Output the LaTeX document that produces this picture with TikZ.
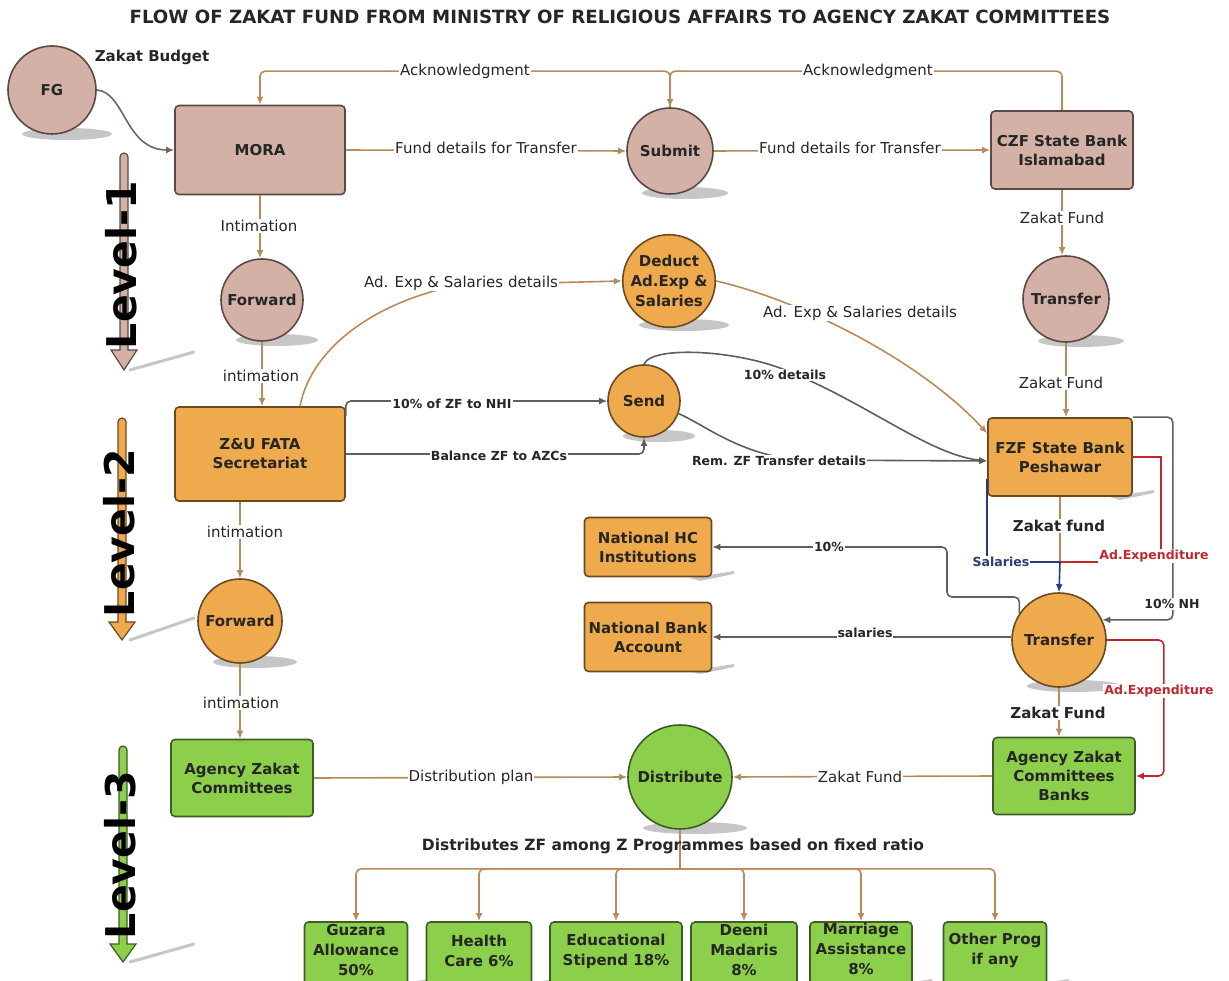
\documentclass[tikz,border=0pt]{standalone}
\usepackage{fontspec}
\setmainfont{DejaVu Sans}
\usetikzlibrary{arrows.meta,calc}

\definecolor{pinkF}{HTML}{D3B1A6}
\definecolor{pinkD}{HTML}{5B4943}
\definecolor{orgF}{HTML}{EFAA4D}
\definecolor{orgD}{HTML}{6B4A22}
\definecolor{grnF}{HTML}{8CCF4B}
\definecolor{grnD}{HTML}{3E5C28}
\definecolor{tanL}{HTML}{B98A5A}
\definecolor{greyL}{HTML}{5E5E5E}
\definecolor{redL}{HTML}{C0282E}
\definecolor{navyL}{HTML}{2A3A7A}
\definecolor{shadeC}{HTML}{C6C6C6}
\definecolor{txtC}{HTML}{262626}

\tikzset{
  bx/.style={draw, line width=1.6pt, rounded corners=4pt, align=center,
    font=\fontsize{15}{19}\selectfont\bfseries, text=txtC},
  cir/.style={circle, draw, line width=1.6pt, align=center, inner sep=0pt,
    font=\fontsize{15}{20}\selectfont\bfseries, text=txtC},
  pinkst/.style={fill=pinkF, draw=pinkD},
  orgst/.style={fill=orgF, draw=orgD},
  grnst/.style={fill=grnF, draw=grnD},
  conn/.style={line width=1.6pt, -{Latex[length=8pt,width=7pt]}},
  tanc/.style={conn, draw=tanL},
  greyc/.style={conn, draw=greyL},
  redc/.style={conn, draw=redL},
  navyc/.style={conn, draw=navyL},
  lab/.style={fill=white, inner sep=1pt, text=txtC, font=\fontsize{15}{18}\selectfont},
  blab/.style={fill=white, inner sep=1pt, text=txtC, font=\fontsize{12.5}{15}\selectfont\bfseries},
  mlab/.style={fill=white, inner sep=1pt, text=txtC, font=\fontsize{15}{18}\selectfont\bfseries},
  lvtext/.style={rotate=90, anchor=base, inner sep=0pt, font=\fontsize{41}{41}\selectfont\bfseries},
  lvarrow/.style={line width=1.2pt},
  progbox/.style={bx, grnst, minimum height=70pt},
  progtext/.style={align=center, inner sep=0pt, text=txtC, font=\fontsize{15}{20}\selectfont\bfseries},
}

\begin{document}
\begin{tikzpicture}[x=1pt,y=-1pt]
\useasboundingbox (0,0) rectangle (1229,981);
\clip (0,0) rectangle (1229,981);

% title
\node[font=\fontsize{18.2}{21}\selectfont\bfseries, text=txtC] (title) at (620,17)
  {FLOW OF ZAKAT FUND FROM MINISTRY OF RELIGIOUS AFFAIRS TO AGENCY ZAKAT COMMITTEES};

% drop shadows under the round nodes
\foreach \cx/\cy/\r in {52/90/45, 670/151/43, 262/300/41, 669/281/45, 1066/299/43,
                        644/401/36, 240/621/42, 1059/640/47, 680/777/52}
  \fill[shadeC] (\cx+15,\cy+\r-1) ellipse [x radius=\r, y radius=6];

% drop shadows under some boxes
\foreach \xr/\yb in {1132/496, 712/577, 712/670, 407/985, 532/985, 682/985, 797/985, 910/985, 1047/985}
  \fill[shadeC] (\xr-22,\yb+1) -- (\xr+22,\yb-6) -- (\xr+22,\yb-3) -- (\xr-12,\yb+4) -- cycle;

% level arrows
\filldraw[lvarrow, fill=pinkF, draw=pinkD]
  [rounded corners=4pt] (120,350) -- (120,153) -- (128,153) [sharp corners] -- (128,350)
  -- (137,350) -- (124,370) -- (111,350) -- cycle;
\filldraw[lvarrow, fill=orgF, draw=orgD]
  [rounded corners=4pt] (118,622) -- (118,418) -- (126,418) [sharp corners] -- (126,622)
  -- (135,622) -- (122,640) -- (109,622) -- cycle;
\filldraw[lvarrow, fill=grnF, draw=grnD]
  [rounded corners=4pt] (119,944) -- (119,746) -- (127,746) [sharp corners] -- (127,944)
  -- (136,944) -- (123,962) -- (110,944) -- cycle;
\foreach \ya/\yb in {370/352, 640/618, 962/944}
  \draw[shadeC, line width=3pt, line cap=round] (130,\ya) -- (194,\yb);
\node[lvtext] (lv1) at (136,265) {Level-1};
\node[lvtext] (lv2) at (134,533) {Level-2};
\node[lvtext] (lv3) at (135,855) {Level-3};

% level 1 nodes
\node[cir, pinkst, minimum size=88pt] (fg) at (52,90) {FG};
\node[font=\fontsize{15}{18}\selectfont\bfseries, text=txtC] (zb) at (152,57) {Zakat Budget};
\node[bx, pinkst, minimum width=170pt, minimum height=89pt] (mora) at (260,150) {MORA};
\node[cir, pinkst, minimum size=86pt] (sub) at (670,151) {Submit};
\node[bx, pinkst, minimum width=142pt, minimum height=78pt] (czf) at (1062,150) {CZF State Bank\\Islamabad};
\node[cir, pinkst, minimum size=82pt] (fw1) at (262,300) {Forward};
\node[cir, pinkst, minimum size=86pt] (tr1) at (1066,299) {Transfer};

% level 2 nodes
\node[cir, orgst, minimum size=90pt] (ded) at (669,281) {Deduct\\Ad.Exp \&\\Salaries};
\node[bx, orgst, minimum width=170pt, minimum height=94pt] (zu) at (260,454) {Z\&U FATA\\Secretariat};
\node[cir, orgst, minimum size=72pt] (send) at (644,401) {Send};
\node[bx, orgst, minimum width=144pt, minimum height=78pt] (fzf) at (1060,457) {FZF State Bank\\Peshawar};
\node[cir, orgst, minimum size=84pt] (fw2) at (240,621) {Forward};
\node[bx, orgst, minimum width=127pt, minimum height=59pt] (nhc) at (648,547) {National HC\\Institutions};
\node[bx, orgst, minimum width=127pt, minimum height=69pt] (nba) at (648,637) {National Bank\\Account};
\node[cir, orgst, minimum size=94pt] (tr2) at (1059,640) {Transfer};

% level 3 nodes
\node[bx, grnst, minimum width=142pt, minimum height=77pt] (azc) at (242,778) {Agency Zakat\\Committees};
\node[cir, grnst, minimum size=104pt] (dist) at (680,777) {Distribute};
\node[bx, grnst, minimum width=142pt, minimum height=77pt] (azcb) at (1064,776) {Agency Zakat\\Committees\\Banks};

\node[progbox, minimum width=103pt] (p1) at (356,957) {};
\node[progbox, minimum width=105pt] (p2) at (479,957) {};
\node[progbox, minimum width=132pt] (p3) at (616,957) {};
\node[progbox, minimum width=106pt] (p4) at (744,957) {};
\node[progbox, minimum width=102pt] (p5) at (861,957) {};
\node[progbox, minimum width=103pt] (p6) at (995,957) {};
\node[progtext] (t1) at (356,950) {Guzara\\Allowance\\50\%};
\node[progtext] (t2) at (479,951) {Health\\Care 6\%};
\node[progtext] (t3) at (616,951) {Educational\\Stipend 18\%};
\node[progtext] (t4) at (744,950) {Deeni\\Madaris\\8\%};
\node[progtext] (t5) at (861,949) {Marriage\\Assistance\\8\%};
\node[progtext] (t6) at (995,950) {Other Prog\\if any};

% level 1 connectors
\draw[conn, draw=pinkD!85] (fg.east) .. controls (125,92) and (125,150) .. (mora.west);
\draw[tanc, rounded corners=5pt] (czf.north) -- ++(0,-39) -| (sub.north);
\draw[tanc, rounded corners=5pt] (sub.north) -- ++(0,-36) -| (mora.north);
\draw[tanc] (mora.east) -- (sub.west);
\draw[tanc] (sub.east) -- (czf.west);
\draw[tanc] (mora.south) -- (mora.south |- fw1.north);
\draw[tanc] (czf.south) -- (czf.south |- tr1.north);
\draw[tanc] (fw1.south) -- (fw1.south |- zu.north);
\draw[tanc] (tr1.south) -- (tr1.south |- fzf.north);

% level 2 connectors
\draw[tanc] ([xshift=40pt]zu.north) .. controls (312,345) and (380,300) .. (460,285) -- (ded.west);
\draw[tanc] (ded.east) .. controls (800,300) and (920,360) .. (fzf.162);
\draw[greyc, rounded corners=5pt] ([yshift=-10pt]zu.north east) |- (send.west);
\draw[greyc, rounded corners=5pt] (zu.east) -| (send.south);
\draw[greyc] (send.north) .. controls (652,345) and (740,350) .. (790,372)
  .. controls (870,405) and (930,455) .. ([yshift=-4pt]fzf.west);
\draw[greyc] (send.-20) .. controls (705,425) and (740,455) .. (800,460) -- ([yshift=-4pt]fzf.west);
\draw[tanc] (zu.south -| fw2.north) -- (fw2.north);

\coordinate (jn) at (1060,562);
\draw[line width=1.6pt, draw=tanL] (fzf.south) -- (jn);
\draw[line width=1.6pt, draw=navyL] ([yshift=-22pt]fzf.west) |- (jn);
\draw[line width=1.6pt, draw=redL] (fzf.east) -- ++(28,0) |- (jn);
\draw[navyc] (jn) -- (tr2.north);
\draw[greyc, rounded corners=5pt] (fzf.north east) -- ++(40,0) |- (tr2.25);
\draw[greyc, rounded corners=5pt] (tr2.146) |- (947,597) |- (nhc.east);
\draw[greyc] (nba.east -| tr2.west) -- (nba.east);
\draw[redc, rounded corners=5pt] (tr2.east) -- ++(57,0) |- (azcb.east);
\draw[tanc] (tr2.south) -- (tr2.south |- azcb.north);

% level 3 connectors
\draw[tanc] (fw2.south) -- (fw2.south |- azc.north);
\draw[tanc] (azc.east) -- (dist.west);
\draw[tanc] (azcb.west) -- (dist.east);
\draw[line width=1.6pt, draw=tanL] (dist.south) -- ++(0,39) coordinate (hub);
\foreach \p in {p1,p2,p3,p4,p5,p6}
  \draw[tanc, rounded corners=5pt] (hub) -| (\p.north);

% connector labels
\node[lab] (l1) at (465,71) {Acknowledgment};
\node[lab] (l2) at (868,71) {Acknowledgment};
\node[lab] (l3) at (486,148) {Fund details for Transfer};
\node[lab] (l4) at (850,148) {Fund details for Transfer};
\node[lab] (l5) at (259,226) {Intimation};
\node[lab] (l6) at (1062,218) {Zakat Fund};
\node[lab] (l7) at (261,376) {intimation};
\node[lab] (l8) at (1061,383) {Zakat Fund};
\node[lab] (l9) at (461,283) {Ad. Exp \& Salaries details};
\node[lab] (l10) at (860,313) {Ad. Exp \& Salaries details};
\node[blab] (l11) at (452,404) {10\% of ZF to NHI};
\node[blab] (l12) at (499,456) {Balance ZF to AZCs};
\node[blab] (l13) at (785,375) {10\% details};
\node[blab] (l14) at (779,461) {Rem. ZF Transfer details};
\node[lab] (l15) at (245,532) {intimation};
\node[mlab] (l16) at (1059,526) {Zakat fund};
\node[blab, text=navyL] (l17) at (1001,562) {Salaries};
\node[blab, text=redL] (l18) at (1154,556) {Ad.Expenditure};
\node[blab] (l19) at (829,547) {10\%};
\node[blab] (l20) at (1172,604) {10\% NH};
\node[blab] (l21) at (865,633) {salaries};
\node[blab, text=redL] (l22) at (1159,691) {Ad.Expenditure};
\node[lab] (l23) at (241,703) {intimation};
\node[mlab] (l24) at (1058,713) {Zakat Fund};
\node[lab] (l25) at (471,777) {Distribution plan};
\node[lab] (l26) at (860,777) {Zakat Fund};
\node[font=\fontsize{15.5}{18}\selectfont\bfseries, text=txtC] (l27) at (673,846)
  {Distributes ZF among Z Programmes based on fixed ratio};
\end{tikzpicture}
\end{document}
